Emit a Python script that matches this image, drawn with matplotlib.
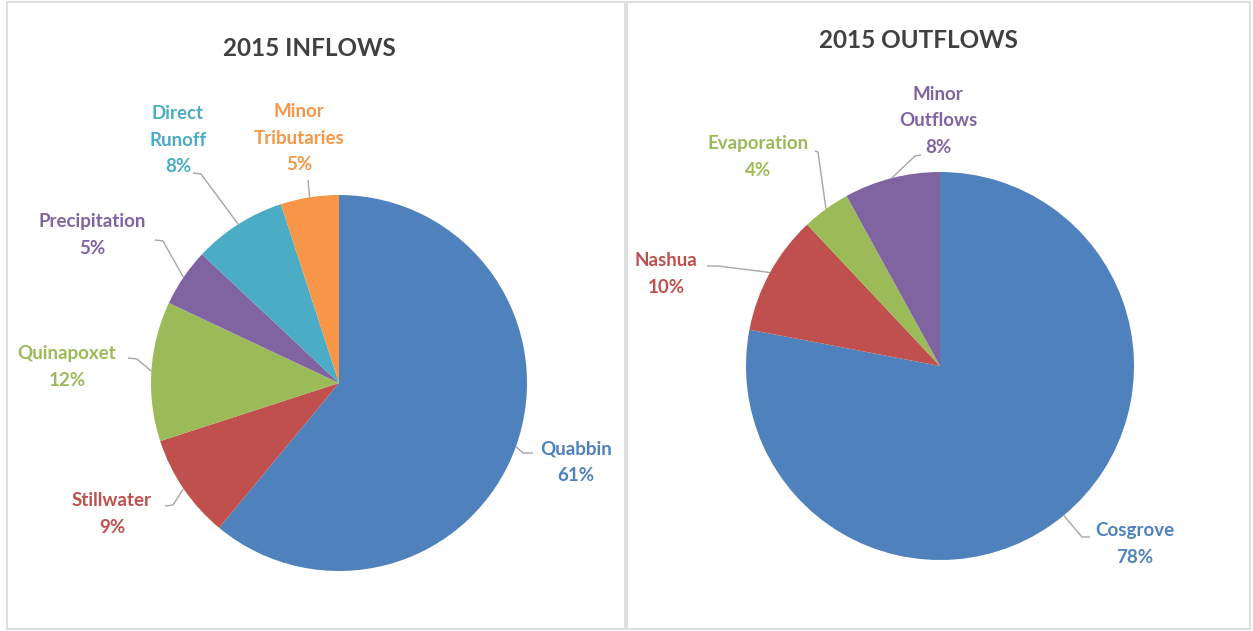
import matplotlib
matplotlib.use("Agg")
import matplotlib.pyplot as plt
import numpy as np
from matplotlib.patches import Rectangle

plt.rcParams['font.family'] = ['Lato', 'DejaVu Sans']

# 2015 water budget shares (percent)
inflow_names = ['Quabbin', 'Stillwater', 'Quinapoxet', 'Precipitation', 'Direct\nRunoff', 'Minor\nTributaries']
inflow_pct = [61, 9, 12, 5, 8, 5]
inflow_colors = ['#4F81BD', '#C0504D', '#9BBB59', '#8064A2', '#4BACC6', '#F79646']

outflow_names = ['Cosgrove', 'Nashua', 'Evaporation', 'Minor\nOutflows']
outflow_pct = [78, 10, 4, 8]
outflow_colors = ['#4F81BD', '#C0504D', '#9BBB59', '#8064A2']

W, H = 1253, 631

fig = plt.figure(figsize=(W / 100, H / 100), dpi=100)
ax = fig.add_axes([0, 0, 1, 1])


def Y(y):
    # work in pixel rows measured from the top
    return H - y


def draw_pie(vals, names, colors, cx, cy, r, title, title_xy, label_xy, elbows):
    ax.pie(vals, colors=colors, startangle=90, counterclock=False,
           center=(cx, Y(cy)), radius=r, wedgeprops=dict(linewidth=0))
    ax.text(title_xy[0], Y(title_xy[1]), title, ha='center', va='center',
            fontsize=17.5, fontweight='bold', color='#404040')
    total = float(sum(vals))
    cum = 0.0
    for v, name, col, (lx, ly), elbow in zip(vals, names, colors, label_xy, elbows):
        mid = (cum + v / 2) / total * 2 * np.pi
        cum += v
        # point on the rim at the middle of the wedge
        px = cx + r * np.sin(mid)
        py = cy - r * np.cos(mid)
        xs = [px] + [e[0] for e in elbow]
        ys = [Y(py)] + [Y(e[1]) for e in elbow]
        ax.plot(xs, ys, color='#A6A6A6', lw=1.0, solid_capstyle='butt')
        ax.text(lx, Y(ly), f"{name}\n{v}%", ha='center', va='center',
                fontsize=13.5, fontweight='bold', color=col, linespacing=1.7)


draw_pie(inflow_pct, inflow_names, inflow_colors, 339, 383, 188,
         '2015 INFLOWS', (309, 49),
         [(576, 462), (112, 514), (67, 367), (92, 235), (178, 140), (299, 138)],
         [[(523, 453), (533, 453)],
          [(173, 505), (165, 506)],
          [(137, 359), (128, 358)],
          [(163, 241), (155, 240)],
          [(201, 174), (193, 173)],
          [(308, 180)]])

draw_pie(outflow_pct, outflow_names, outflow_colors, 940, 366, 194,
         '2015 OUTFLOWS', (918, 40),
         [(1135, 544), (666, 274), (758, 157), (938, 121)],
         [[(1082, 537), (1090, 537)],
          [(718, 266), (707, 266)],
          [(818, 152), (815, 151)],
          [(915, 156), (921, 155)]])

# panel frames
for x0, x1 in [(7, 625), (627, 1250)]:
    ax.add_patch(Rectangle((x0, Y(629)), x1 - x0, 627, fill=False,
                           edgecolor='#D9D9D9', lw=1.2))

ax.set_xlim(0, W)
ax.set_ylim(0, H)
ax.set_aspect('equal')
ax.axis('off')

fig.savefig('out.png', dpi=100, facecolor='white')
